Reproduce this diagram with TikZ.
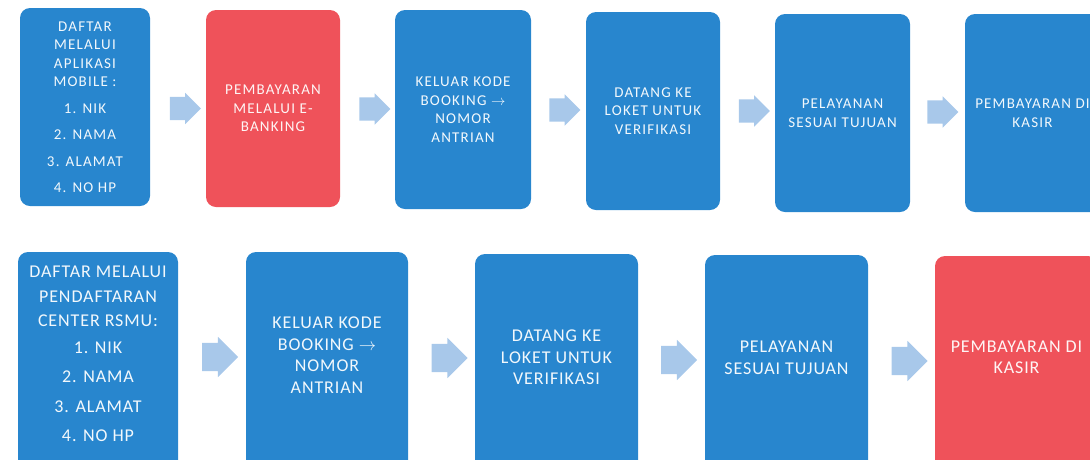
\documentclass[tikz,border=0pt]{standalone}
\usepackage{fontspec}
\setmainfont{Carlito}
\newfontfamily\smallstepfont{Carlito}[LetterSpace=8]
\newfontfamily\bigstepfont{Carlito}[LetterSpace=5]
\usetikzlibrary{shapes.arrows}

\definecolor{boxblue}{RGB}{40,134,206}
\definecolor{boxred}{RGB}{239,82,90}
\definecolor{arrowblue}{RGB}{168,200,234}

\tikzset{
  stepbox/.style={rectangle, rounded corners=10pt, fill=boxblue, text=white!94!boxblue,
    align=center, inner sep=0pt, font=\smallstepfont\fontsize{15}{18.5}\selectfont},
  paybox/.style={stepbox, fill=boxred, text=white!94!boxred},
  steptext/.style={align=center, inner sep=0pt, text=white!94!boxblue,
    font=\bigstepfont\fontsize{18}{21.5}\selectfont},
  paytext/.style={steptext, text=white!94!boxred},
  flowarrow/.style={single arrow, fill=arrowblue, inner xsep=0pt, inner ysep=11.5pt,
    minimum height=31pt, single arrow head extend=4pt},
  bigarrow/.style={flowarrow, inner ysep=14pt, minimum height=36pt, single arrow head extend=6pt},
}

\begin{document}
\begin{tikzpicture}[x=1pt,y=-1pt]
   \useasboundingbox (0,0) rectangle (1090,459);
   \clip (0,0) rectangle (1090,459);

   % jalur aplikasi mobile
   \node[stepbox, minimum width=130pt, minimum height=198pt] (m1) at (85,107)
      {DAFTAR\\MELALUI\\APLIKASI\\MOBILE :\\[8pt]1. NIK\\[8pt]2. NAMA\\[8pt]3. ALAMAT\\[8pt]4. NO HP};
   \node[paybox, minimum width=134pt, minimum height=197pt] (m2) at (273,108.5)
      {PEMBAYARAN\\MELALUI E-\\BANKING};
   \node[stepbox, minimum width=136pt, minimum height=199pt] (m3) at (463,109.5)
      {KELUAR KODE\\BOOKING $\rightarrow$\\NOMOR\\ANTRIAN};
   \node[stepbox, minimum width=134pt, minimum height=198pt] (m4) at (653,111)
      {DATANG KE\\LOKET UNTUK\\VERIFIKASI};
   \node[stepbox, minimum width=135pt, minimum height=198pt] (m5) at (842.5,113)
      {PELAYANAN\\SESUAI TUJUAN};
   \node[stepbox, minimum width=135pt, minimum height=198pt] (m6) at (1032.5,113)
      {PEMBAYARAN DI\\KASIR};

   \node[flowarrow] (ma1) at (179.5,108.5) {};
   \node[flowarrow] (ma2) at (369,109) {};
   \node[flowarrow] (ma3) at (559,110) {};
   \node[flowarrow] (ma4) at (748.5,111) {};
   \node[flowarrow] (ma5) at (937,112) {};

   % jalur pendaftaran center (kotak terpotong di bawah)
   \node[stepbox, minimum width=160pt, minimum height=223pt] (c1) at (98,363.5) {};
   \node[stepbox, minimum width=162pt, minimum height=223pt] (c2) at (327,363.5) {};
   \node[stepbox, minimum width=163pt, minimum height=221pt] (c3) at (556.5,364.5) {};
   \node[stepbox, minimum width=163pt, minimum height=220pt] (c4) at (786.5,365) {};
   \node[paybox, minimum width=163pt, minimum height=219pt] (c5) at (1016.5,365.5) {};

   \node[steptext] (c1txt) at (98,354)
      {DAFTAR MELALUI\\[3pt]PENDAFTARAN\\[3pt]CENTER RSMU:\\[5pt]1. NIK\\[8pt]2. NAMA\\[8pt]3. ALAMAT\\[8pt]4. NO HP};
   \node[steptext] (c2txt) at (327,355)
      {KELUAR KODE\\BOOKING $\rightarrow$\\NOMOR\\ANTRIAN};
   \node[steptext] (c3txt) at (556.5,357.5)
      {DATANG KE\\LOKET UNTUK\\VERIFIKASI};
   \node[steptext] (c4txt) at (786.5,358)
      {PELAYANAN\\SESUAI TUJUAN};
   \node[paytext] (c5txt) at (1016.5,357.5)
      {PEMBAYARAN DI\\KASIR};

   \node[bigarrow] (ca1) at (213,357) {};
   \node[bigarrow] (ca2) at (442.5,358) {};
   \node[bigarrow] (ca3) at (672,360) {};
   \node[bigarrow] (ca4) at (902.5,361) {};
\end{tikzpicture}
\end{document}
